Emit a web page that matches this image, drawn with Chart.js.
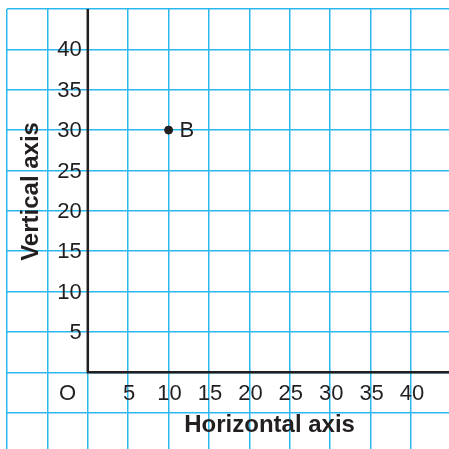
<!DOCTYPE html>
<html>
<head>
<meta charset="utf-8">
<script src="https://cdn.jsdelivr.net/npm/chart.js@4.4.0/dist/chart.umd.min.js"></script>
<style>
  html, body { margin: 0; padding: 0; background: #fff; overflow: hidden; }
  #wrap { width: 454px; height: 454px; }
</style>
</head>
<body>
<div id="wrap"><canvas id="c"></canvas></div>
<script>
// data
const pointNames = ['B'];
const pointX = [10];
const pointY = [30];
const xTickLabels = [5, 10, 15, 20, 25, 30, 35, 40];
const yTickLabels = [5, 10, 15, 20, 25, 30, 35, 40];
const originLabel = 'O';
const xTitle = 'Horizontal axis';
const yTitle = 'Vertical axis';

const gridBlue = '#2bb8ee';
const ink = '#231f20';

// draws the black axes, the tick numbers, titles and point names
const paperPlugin = {
  id: 'paper',
  afterDatasetsDraw(chart) {
    const { ctx, scales: { x, y }, chartArea } = chart;
    const x0 = x.getPixelForValue(0);
    const y0 = y.getPixelForValue(0);

    ctx.save();
    ctx.strokeStyle = ink;
    ctx.lineWidth = 2.5;
    ctx.beginPath();
    ctx.moveTo(x0, chartArea.top);
    ctx.lineTo(x0, y0);
    ctx.lineTo(chartArea.right, y0);
    ctx.stroke();

    ctx.fillStyle = ink;
    ctx.font = '22px "Liberation Sans", Arial, sans-serif';

    // y numbers sit left of the axis, centred on their line
    ctx.textAlign = 'right';
    ctx.textBaseline = 'middle';
    yTickLabels.forEach(v => {
      ctx.fillText(String(v), x0 - 6, y.getPixelForValue(v) + 1);
    });

    // x numbers sit in the row under the axis
    ctx.textAlign = 'center';
    const rowY = y.getPixelForValue(-2.5) + 1;
    xTickLabels.forEach(v => {
      ctx.fillText(String(v), x.getPixelForValue(v) + 1, rowY);
    });
    ctx.fillText(originLabel, x.getPixelForValue(-2.5), rowY);

    // point names
    ctx.textAlign = 'left';
    pointNames.forEach((n, i) => {
      ctx.fillText(n, x.getPixelForValue(pointX[i]) + 11, y.getPixelForValue(pointY[i]) + 1);
    });

    // axis titles
    ctx.font = 'bold 24px "Liberation Sans", Arial, sans-serif';
    ctx.textAlign = 'center';
    ctx.fillText(xTitle, x.getPixelForValue(22.5), y.getPixelForValue(-6.6));

    ctx.translate(x.getPixelForValue(-6.95), y.getPixelForValue(22.4));
    ctx.rotate(-Math.PI / 2);
    ctx.fillText(yTitle, 0, 0);
    ctx.restore();
  }
};

const gridOpts = {
  color: gridBlue,
  lineWidth: 1.5,
  drawTicks: false
};

new Chart(document.getElementById('c'), {
  type: 'scatter',
  data: {
    datasets: [{
      data: pointX.map((v, i) => ({ x: v, y: pointY[i] })),
      backgroundColor: ink,
      borderColor: ink,
      pointRadius: 4,
      pointHoverRadius: 4
    }]
  },
  options: {
    responsive: true,
    maintainAspectRatio: false,
    animation: false,
    layout: { padding: { left: 7, top: 9, right: 0, bottom: 0 } },
    plugins: {
      legend: { display: false },
      tooltip: { enabled: false }
    },
    scales: {
      x: {
        type: 'linear',
        min: -10,
        max: 44.7,
        grid: gridOpts,
        border: { display: false },
        ticks: { display: false, stepSize: 5, includeBounds: false }
      },
      y: {
        type: 'linear',
        min: -9.5,
        max: 45,
        grid: gridOpts,
        border: { display: false },
        ticks: { display: false, stepSize: 5, includeBounds: false }
      }
    }
  },
  plugins: [paperPlugin]
});
</script>
</body>
</html>
